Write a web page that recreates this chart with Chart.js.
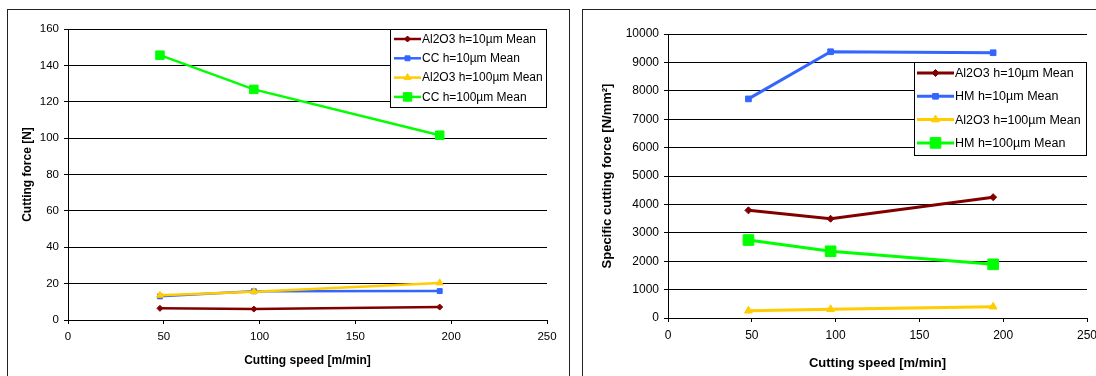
<!DOCTYPE html>
<html>
  <head>
    <meta charset="UTF-8">
    <title>Cutting force and specific cutting force</title>
    <script src="https://cdn.jsdelivr.net/npm/chart.js@4.4.0/dist/chart.umd.min.js"></script>
    <style>
      body { margin: 0; width: 1096px; height: 376px; overflow: hidden; background: #fff; position: relative; }
      .frame { position: absolute; border: 1px solid #222; box-sizing: border-box; }
      canvas { position: absolute; }
    </style>
  </head>
  <body>
    <div class="frame" style="left:7px; top:9px; width:563px; height:420px;"></div>
    <div class="frame" style="left:582px; top:9px; width:600px; height:420px;"></div>
    <canvas id="forceChart" width="562" height="367" style="left:7px; top:9px;"></canvas>
    <canvas id="specificChart" width="540" height="367" style="left:582px; top:9px;"></canvas>

    <script>
      // cutting speed [m/min]
      const speeds = [48, 97, 194];
      const xTicks = [0, 50, 100, 150, 200, 250];

      // left chart: cutting force [N]
      const forceLabels = ['Al2O3 h=10µm Mean', 'CC h=10µm Mean', 'Al2O3 h=100µm Mean', 'CC h=100µm Mean'];
      const forceAl2o3h10 = [6.4, 6.0, 7.1];
      const forceCCh10 = [13.0, 15.8, 15.9];
      const forceAl2o3h100 = [13.6, 15.6, 20.4];
      const forceCCh100 = [145.6, 126.8, 101.6];
      const forceYTicks = [0, 20, 40, 60, 80, 100, 120, 140, 160];

      // right chart: specific cutting force [N/mm²]
      const specificLabels = ['Al2O3 h=10µm Mean', 'HM h=10µm Mean', 'Al2O3 h=100µm Mean', 'HM h=100µm Mean'];
      const specAl2o3h10 = [3790, 3495, 4255];
      const specHMh10 = [7715, 9375, 9340];
      const specAl2o3h100 = [255, 305, 398];
      const specHMh100 = [2745, 2350, 1890];
      const specificYTicks = [0, 1000, 2000, 3000, 4000, 5000, 6000, 7000, 8000, 9000, 10000];

      const colors = ['#800000', '#3366FF', '#FFCC00', '#00FF00'];
      const FONT = "'Liberation Sans', Arial, sans-serif";

      function makeDatasets(labels, series, styles, lineWidth) {
        return series.map((values, i) => ({
          label: labels[i],
          data: values.map((v, j) => ({x: speeds[j], y: v})),
          borderColor: colors[i],
          backgroundColor: colors[i],
          borderWidth: lineWidth,
          pointStyle: styles[i].shape,
          pointRadius: styles[i].radius,
          pointBorderWidth: 1,
          pointBorderColor: colors[i],
          pointBackgroundColor: colors[i],
          tension: 0,
          order: series.length - i
        }));
      }

      // draws a marker for the legend
      function marker(ctx, shape, x, y, r) {
        ctx.beginPath();
        if (shape === 'rect') {
          let s = r * Math.SQRT1_2;
          ctx.rect(x - s, y - s, 2 * s, 2 * s);
        } else if (shape === 'rectRot') {
          ctx.moveTo(x, y - r); ctx.lineTo(x + r, y); ctx.lineTo(x, y + r); ctx.lineTo(x - r, y);
        } else if (shape === 'triangle') {
          ctx.moveTo(x, y - r); ctx.lineTo(x + r * 0.87, y + r * 0.5); ctx.lineTo(x - r * 0.87, y + r * 0.5);
        }
        ctx.closePath();
        ctx.fill();
        ctx.stroke();
      }

      const boxLegend = {
        id: 'boxLegend',
        afterDraw(chart, args, opts) {
          const ctx = chart.ctx;
          const area = chart.chartArea;
          const left = area.right - opts.width;
          const top = area.top + opts.top;
          ctx.save();
          ctx.fillStyle = '#fff';
          ctx.fillRect(left, top, opts.width, opts.height);
          ctx.strokeStyle = '#000';
          ctx.lineWidth = 1;
          ctx.strokeRect(left + 0.5, top + 0.5, opts.width - 1, opts.height - 1);
          ctx.font = opts.font;
          ctx.textBaseline = 'middle';
          chart.data.datasets.forEach((ds, i) => {
            const y = top + opts.first + i * opts.rowH;
            ctx.strokeStyle = ds.borderColor;
            ctx.fillStyle = ds.borderColor;
            ctx.lineWidth = ds.borderWidth;
            ctx.beginPath();
            ctx.moveTo(left + opts.lineStart, y);
            ctx.lineTo(left + opts.lineEnd, y);
            ctx.stroke();
            ctx.lineWidth = 1;
            marker(ctx, ds.pointStyle, left + (opts.lineStart + opts.lineEnd) / 2, y, ds.pointRadius);
            ctx.fillStyle = '#000';
            ctx.fillText(ds.label, left + opts.lineEnd + 1, y + 0.5);
          });
          ctx.restore();
        }
      };

      function makeOptions(cfg) {
        return {
          responsive: false,
          animation: false,
          layout: {padding: {left: 0, top: cfg.padTop, right: cfg.padRight, bottom: 0}},
          plugins: {
            legend: {display: false},
            tooltip: {enabled: false},
            boxLegend: cfg.legend
          },
          scales: {
            x: {
              type: 'linear',
              min: xTicks[0],
              max: xTicks[xTicks.length - 1],
              afterBuildTicks: (scale) => { scale.ticks = xTicks.map(v => ({value: v})); },
              afterFit: (scale) => { scale.height = cfg.xHeight; },
              grid: {drawOnChartArea: false, tickLength: 4, tickColor: '#000'},
              border: {color: '#000', width: 1},
              ticks: {color: '#000', padding: 6, font: {family: FONT, size: cfg.tickSize},
                      callback: (v) => String(v)},
              title: {display: true, text: 'Cutting speed [m/min]', color: '#000',
                      font: {family: FONT, size: cfg.titleSize, weight: 'bold'},
                      padding: {top: 0, bottom: cfg.xTitlePad}}
            },
            y: {
              min: cfg.yTicks[0],
              max: cfg.yTicks[cfg.yTicks.length - 1],
              afterBuildTicks: (scale) => { scale.ticks = cfg.yTicks.map(v => ({value: v})); },
              afterFit: (scale) => { scale.width = cfg.yWidth; },
              grid: {color: '#000', lineWidth: 1, tickLength: 4, tickColor: '#000'},
              border: {color: '#000', width: 1},
              ticks: {color: '#000', padding: 5, font: {family: FONT, size: cfg.tickSize},
                      callback: (v) => String(v)},
              title: {display: true, text: cfg.yTitle, color: '#000',
                      font: {family: FONT, size: cfg.titleSize, weight: 'bold'},
                      padding: {top: cfg.yTitlePad, bottom: 0}}
            }
          }
        };
      }

      new Chart(document.getElementById('forceChart').getContext('2d'), {
        type: 'line',
        data: {
          datasets: makeDatasets(forceLabels,
            [forceAl2o3h10, forceCCh10, forceAl2o3h100, forceCCh100],
            [{shape: 'rectRot', radius: 3}, {shape: 'rect', radius: 3.5}, {shape: 'triangle', radius: 4}, {shape: 'rect', radius: 6}],
            2.5)
        },
        options: makeOptions({
          padTop: 20, padRight: 22, xHeight: 56, yWidth: 61,
          tickSize: 11.5, titleSize: 12, xTitlePad: 8.5, yTitlePad: 13.8,
          yTicks: forceYTicks, yTitle: 'Cutting force [N]',
          legend: {width: 157, height: 79, top: 0, first: 10, rowH: 19.3, lineStart: 4, lineEnd: 31,
                   font: '12px ' + FONT}
        }),
        plugins: [boxLegend]
      });

      new Chart(document.getElementById('specificChart').getContext('2d'), {
        type: 'line',
        data: {
          datasets: makeDatasets(specificLabels,
            [specAl2o3h10, specHMh10, specAl2o3h100, specHMh100],
            [{shape: 'rectRot', radius: 3.5}, {shape: 'rect', radius: 4}, {shape: 'triangle', radius: 4.5}, {shape: 'rect', radius: 7.5}],
            3)
        },
        options: makeOptions({
          padTop: 25, padRight: 35, xHeight: 58, yWidth: 86,
          tickSize: 12, titleSize: 13, xTitlePad: 5, yTitlePad: 17.2,
          yTicks: specificYTicks, yTitle: 'Specific cutting force [N/mm²]',
          legend: {width: 173, height: 94, top: 28, first: 11, rowH: 23.3, lineStart: 3, lineEnd: 40,
                   font: '12.5px ' + FONT}
        }),
        plugins: [boxLegend]
      });
    </script>
  </body>
</html>
